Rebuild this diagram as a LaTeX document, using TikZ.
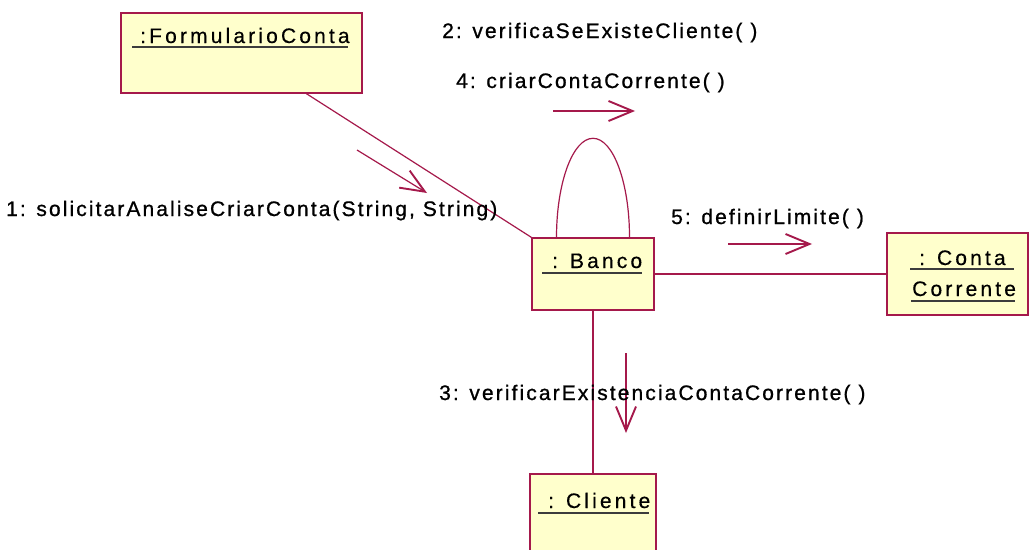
\documentclass[tikz,border=0pt]{standalone}
\usepackage{fontspec}
\setmainfont{Liberation Sans}
\newfontfamily\msgfont[LetterSpace=10,FakeBold=0.9]{Liberation Sans}
\newfontfamily\objfont[LetterSpace=15,FakeBold=0.4]{Liberation Sans}
\usetikzlibrary{arrows.meta,calc}
\definecolor{umlred}{RGB}{165,25,75}
\definecolor{umlfill}{RGB}{255,255,204}
\definecolor{ulgray}{RGB}{60,60,60}
\begin{document}
\begin{tikzpicture}[x=1pt,y=-1pt,
  objbox/.style={draw=umlred, fill=umlfill, line width=1.4pt, inner sep=0pt},
  link/.style={draw=umlred, line width=1.2pt},
  msg/.style={draw=umlred, line width=1.2pt, -{Straight Barb[length=24pt,width=20pt,line width=1.9pt]}},
  msglabel/.style={anchor=base west, inner sep=0pt, font=\msgfont\fontsize{21}{24}\selectfont},
  objlabel/.style={anchor=base west, inner sep=0pt, font=\objfont\fontsize{21}{24}\selectfont},
  uline/.style={draw=ulgray, line width=1.5pt}]
\clip (0,0) rectangle (1030,549);
\fill[white] (0,0) rectangle (1030,549);

% object boxes
\node[objbox, minimum width=241pt, minimum height=80pt] (form) at (241.5,53) {};
\node[objbox, minimum width=122pt, minimum height=72pt] (banco) at (593,274) {};
\node[objbox, minimum width=141pt, minimum height=82pt] (conta) at (957.5,274) {};
\node[objbox, minimum width=126pt, minimum height=96pt] (cliente) at (593,522) {};

% object names
\node[objlabel] (tform) at (140,43) {:FormularioConta};
\draw[uline] ($(tform.base west)+(-8,4)$) -- ($(tform.base east)+(-2,4)$);
\node[objlabel] (tbanco) at (552,268) {: Banco};
\draw[uline] ($(tbanco.base west)+(-10,5)$) -- ($(tbanco.base east)+(0,5)$);
\node[objlabel] (tconta) at (919,265) {: Conta};
\draw[uline] ($(tconta.base west)+(-9,4)$) -- ($(tconta.base east)+(8,4)$);
\node[objlabel] (tcorr) at (912,296) {Corrente};
\draw[uline] ($(tcorr.base west)+(-1,5)$) -- ($(tcorr.base east)+(-1,5)$);
\node[objlabel] (tcliente) at (548,508) {: Cliente};
\draw[uline] ($(tcliente.base west)+(-10,5)$) -- ($(tcliente.base east)+(-1,5)$);

% links
\draw[link] ($(form.south west)!0.768!(form.south east)$) -- (banco.north west);
\draw[link] (banco.east) -- (conta.west);
\draw[link] (banco.south) -- (cliente.north);
\coordinate (loopL) at ($(banco.north)+(-36.5,0)$);
\coordinate (loopR) at ($(banco.north)+(36.5,0)$);
\coordinate (loopT) at ($(banco.north)+(0,-99)$);
\draw[link] (loopL) .. controls ($(loopL)+(0,-54.7)$) and ($(loopT)+(-20.2,0)$) .. (loopT)
  .. controls ($(loopT)+(20.2,0)$) and ($(loopR)+(0,-54.7)$) .. (loopR);

% message arrows
\coordinate (m1s) at (357,150); \coordinate (m1e) at (427,193);
\coordinate (m4s) at (553,111); \coordinate (m4e) at (635,111);
\coordinate (m5s) at (728,244); \coordinate (m5e) at (812,244);
\coordinate (m3s) at (626,353); \coordinate (m3e) at (626,433);
\draw[msg] (m1s) -- (m1e);
\draw[msg] (m4s) -- (m4e);
\draw[msg] (m5s) -- (m5e);
\draw[msg] (m3s) -- (m3e);

% message labels
\node[msglabel] (l1) at (6,216) {1: solicitarAnaliseCriarConta(String, String)};
\node[msglabel] (l2) at (442,38) {2: verificaSeExisteCliente( )};
\node[msglabel] (l4) at (456,88) {4: criarContaCorrente( )};
\node[msglabel] (l5) at (671,224) {5: definirLimite( )};
\node[msglabel] (l3) at (439,400) {3: verificarExistenciaContaCorrente( )};
\end{tikzpicture}
\end{document}
